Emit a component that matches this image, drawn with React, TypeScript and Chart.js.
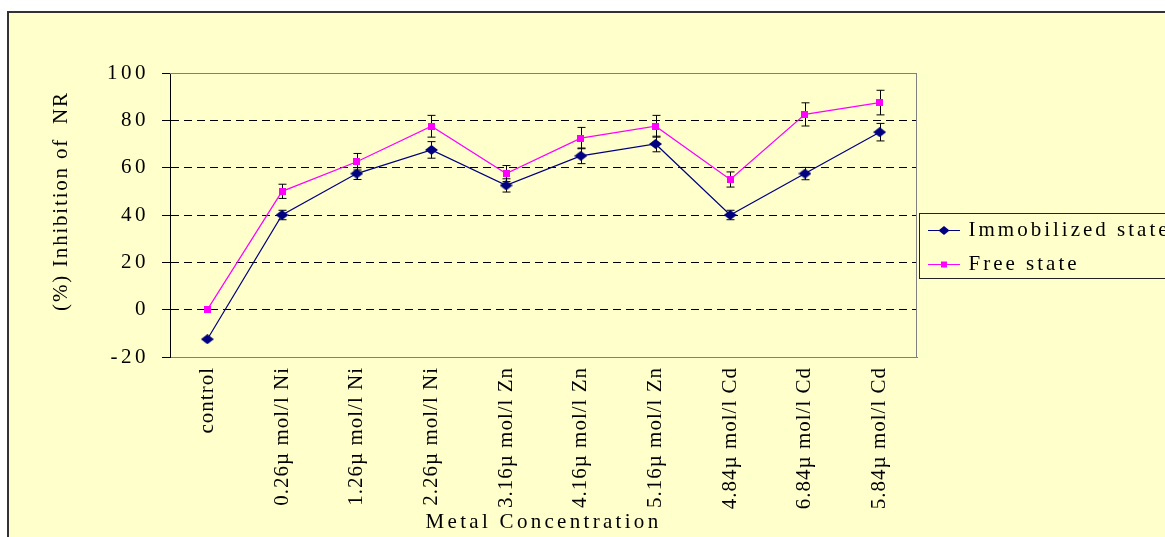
import React, { useEffect, useRef } from 'react';
import { Chart, registerables } from 'chart.js';

Chart.register(...registerables);

const categories = [
  'control',
  '0.26µ mol/l Ni',
  '1.26µ mol/l Ni',
  '2.26µ mol/l Ni',
  '3.16µ mol/l Zn',
  '4.16µ mol/l Zn',
  '5.16µ mol/l Zn',
  '4.84µ mol/l Cd',
  '6.84µ mol/l Cd',
  '5.84µ mol/l Cd',
];
const immobilizedValues = [-12.5, 40, 57.5, 67.5, 52.5, 65, 70, 40, 57.5, 75];
const immobilizedErrors = [0, 2, 2.5, 3.5, 2.8, 3.3, 3.3, 2, 2.6, 3.7];
const freeValues = [0, 50, 62.5, 77.5, 57.5, 72.5, 77.5, 55, 82.5, 87.5];
const freeErrors = [0, 3, 3.5, 4.6, 3.4, 4.5, 4.6, 3.2, 4.9, 5.2];
const yTickValues = [-20, 0, 20, 40, 60, 80, 100];

const NAVY = '#000080';
const MAGENTA = '#FF00FF';
const BG = '#FFFFCC';
const FONT = "'Liberation Serif', 'Times New Roman', serif";
const W = 1240;
const H = 560;

function makeCanvas(w: number, h: number, draw: (g: CanvasRenderingContext2D) => void) {
  const c = document.createElement('canvas');
  c.width = w;
  c.height = h;
  const g = c.getContext('2d')!;
  draw(g);
  return c;
}

function diamond(g: CanvasRenderingContext2D, cx: number, cy: number, hw: number, hh: number) {
  g.beginPath();
  g.moveTo(cx - hw, cy);
  g.lineTo(cx, cy - hh);
  g.lineTo(cx + hw, cy);
  g.lineTo(cx, cy + hh);
  g.closePath();
  g.fill();
}

const wrapSpacing = (obj: any, name: string, spacing: string, dy = 0) => {
  const key = '__wrapped_' + name;
  if (!obj || obj[key]) return;
  const orig = obj[name];
  obj[name] = function (...args: any[]) {
    const c = this.ctx;
    c.save();
    c.letterSpacing = spacing;
    if (dy) c.translate(0, dy);
    const r = orig.apply(this, args);
    c.restore();
    return r;
  };
  obj[key] = true;
};

export default function App() {
  const ref = useRef<HTMLCanvasElement>(null);

  useEffect(() => {
    const canvas = ref.current!;
    const diamondImg = makeCanvas(13, 10, (g) => {
      g.fillStyle = NAVY;
      diamond(g, 6.5, 5, 6.5, 5);
    });
    const squareImg = makeCanvas(7, 7, (g) => {
      g.fillStyle = MAGENTA;
      g.fillRect(0, 0, 7, 7);
    });
    const legImmob = makeCanvas(32, 12, (g) => {
      g.strokeStyle = NAVY;
      g.lineWidth = 1;
      g.beginPath();
      g.moveTo(0, 6.5);
      g.lineTo(32, 6.5);
      g.stroke();
      g.fillStyle = NAVY;
      diamond(g, 16, 6.5, 5.5, 4.5);
    });
    const legFree = makeCanvas(32, 12, (g) => {
      g.strokeStyle = MAGENTA;
      g.lineWidth = 1;
      g.beginPath();
      g.moveTo(0, 6.5);
      g.lineTo(32, 6.5);
      g.stroke();
      g.fillStyle = MAGENTA;
      g.fillRect(13, 3.5, 6, 6);
    });

    const errs = [immobilizedErrors, freeErrors];
    const vals = [immobilizedValues, freeValues];

    const decor = {
      id: 'decor',
      beforeDraw(chart: any) {
        const { ctx, width, height } = chart;
        ctx.save();
        ctx.fillStyle = '#ffffff';
        ctx.fillRect(0, 0, width, height);
        ctx.fillStyle = BG;
        ctx.fillRect(8, 12, width, height);
        ctx.strokeStyle = '#333333';
        ctx.lineWidth = 2;
        ctx.strokeRect(8, 12, width + 20, height + 20);
        ctx.restore();
        const { x, y } = chart.scales;
        wrapSpacing(y, 'drawLabels', '3.5px');
        wrapSpacing(y, 'drawTitle', '1.8px', -14);
        wrapSpacing(x, 'drawLabels', '1px');
        wrapSpacing(x, 'drawTitle', '3.3px');
        wrapSpacing(chart.legend, 'draw', '3px');
      },
      afterLayout(chart: any) {
        const lg = chart.legend;
        if (!lg) return;
        const top = 206.5;
        lg.top = top;
        lg.bottom = top + 100;
        lg.height = 100;
        lg.right = lg.left + 400;
        lg.width = 400;
      },
      beforeDatasetsDraw(chart: any) {
        const { ctx, chartArea: a } = chart;
        const ys = chart.scales.y;
        ctx.save();
        ctx.strokeStyle = '#808080';
        ctx.lineWidth = 1;
        ctx.setLineDash([]);
        ctx.beginPath();
        ctx.moveTo(a.left, Math.round(a.top) + 0.5);
        ctx.lineTo(Math.round(a.right) - 0.5, Math.round(a.top) + 0.5);
        ctx.lineTo(Math.round(a.right) - 0.5, a.bottom);
        ctx.stroke();
        ctx.strokeStyle = '#000000';
        chart.data.datasets.forEach((_ds: any, di: number) => {
          const meta = chart.getDatasetMeta(di);
          meta.data.forEach((pt: any, i: number) => {
            const e = errs[di][i];
            if (!e) return;
            const v = vals[di][i];
            const px = Math.round(pt.x) + 0.5;
            const y1 = ys.getPixelForValue(v + e);
            const y2 = ys.getPixelForValue(v - e);
            ctx.beginPath();
            ctx.moveTo(px, y1);
            ctx.lineTo(px, y2);
            ctx.moveTo(px - 4, y1);
            ctx.lineTo(px + 4, y1);
            ctx.moveTo(px - 4, y2);
            ctx.lineTo(px + 4, y2);
            ctx.stroke();
          });
        });
        ctx.restore();
      },
      afterDraw(chart: any) {
        const lg = chart.legend;
        if (!lg) return;
        const ctx = chart.ctx;
        ctx.save();
        ctx.strokeStyle = '#222222';
        ctx.lineWidth = 1;
        ctx.strokeRect(Math.round(lg.left) + 2.5, Math.round(lg.top + 6.5) + 0.5, 400, 65);
        ctx.restore();
      },
    };

    const chart = new Chart(canvas, {
      type: 'line',
      data: {
        labels: categories,
        datasets: [
          {
            label: 'Immobilized state',
            data: immobilizedValues,
            borderColor: NAVY,
            backgroundColor: NAVY,
            borderWidth: 1.2,
            pointStyle: diamondImg as any,
            pointRadius: 5,
            tension: 0,
            fill: false,
          },
          {
            label: 'Free state',
            data: freeValues,
            borderColor: MAGENTA,
            backgroundColor: MAGENTA,
            borderWidth: 1.2,
            pointStyle: squareImg as any,
            pointRadius: 5,
            tension: 0,
            fill: false,
          },
        ],
      },
      options: {
        responsive: false,
        animation: false,
        devicePixelRatio: 1,
        events: [],
        layout: { padding: { top: 73, left: 0, right: 123, bottom: 0 } },
        font: { family: FONT },
        plugins: {
          tooltip: { enabled: false },
          legend: {
            display: true,
            position: 'right',
            align: 'start',
            maxWidth: 200,
            labels: {
              color: '#000',
              font: { family: FONT, size: 21 },
              usePointStyle: true,
              pointStyleWidth: 28,
              padding: 13,
              generateLabels: () => [
                { text: 'Immobilized state', pointStyle: legImmob as any, fillStyle: NAVY, strokeStyle: NAVY, lineWidth: 0, hidden: false, datasetIndex: 0 },
                { text: 'Free state', pointStyle: legFree as any, fillStyle: MAGENTA, strokeStyle: MAGENTA, lineWidth: 0, hidden: false, datasetIndex: 1 },
              ],
            },
          },
        },
        scales: {
          x: {
            type: 'category',
            offset: true,
            grid: { display: false, drawTicks: false },
            border: { display: true, color: '#808080', width: 1 },
            ticks: {
              autoSkip: false,
              maxRotation: 90,
              minRotation: 90,
              padding: 10,
              color: '#000',
              font: { family: FONT, size: 21 },
            },
            title: {
              display: true,
              text: 'Metal Concentration',
              color: '#000',
              font: { family: FONT, size: 21 },
              padding: { top: 0, bottom: 25 },
            },
            afterFit: (s: any) => {
              s.height = H - 357;
            },
          },
          y: {
            min: -20,
            max: 100,
            afterBuildTicks: (s: any) => {
              s.ticks = yTickValues.map((v) => ({ value: v }));
            },
            grid: {
              color: (c: any) => (c.tick && (c.tick.value === 100 || c.tick.value === -20) ? '#808080' : '#000000'),
              lineWidth: 1,
              drawTicks: true,
              tickLength: 8,
              tickColor: '#000',
              tickWidth: 1,
            },
            border: {
              display: true,
              color: '#000',
              width: 1,
              dash: (c: any) => (c.tick && (c.tick.value === 100 || c.tick.value === -20) ? [] : [8, 5]),
            },
            ticks: {
              padding: 13,
              color: '#000',
              font: { family: FONT, size: 21 },
            },
            title: {
              display: true,
              text: '(%) Inhibition of  NR',
              color: '#000',
              font: { family: FONT, size: 21 },
              padding: { top: 49, bottom: 0 },
            },
            afterFit: (s: any) => {
              s.width = 170;
            },
          },
        },
      } as any,
      plugins: [decor as any],
    });

    return () => {
      chart.destroy();
    };
  }, []);

  return (
    <div style={{ position: 'fixed', left: 0, top: 0, width: 1165, height: 537, overflow: 'hidden', background: '#fff' }}>
      <canvas ref={ref} width={W} height={H} style={{ width: W, height: H, display: 'block' }} />
    </div>
  );
}
